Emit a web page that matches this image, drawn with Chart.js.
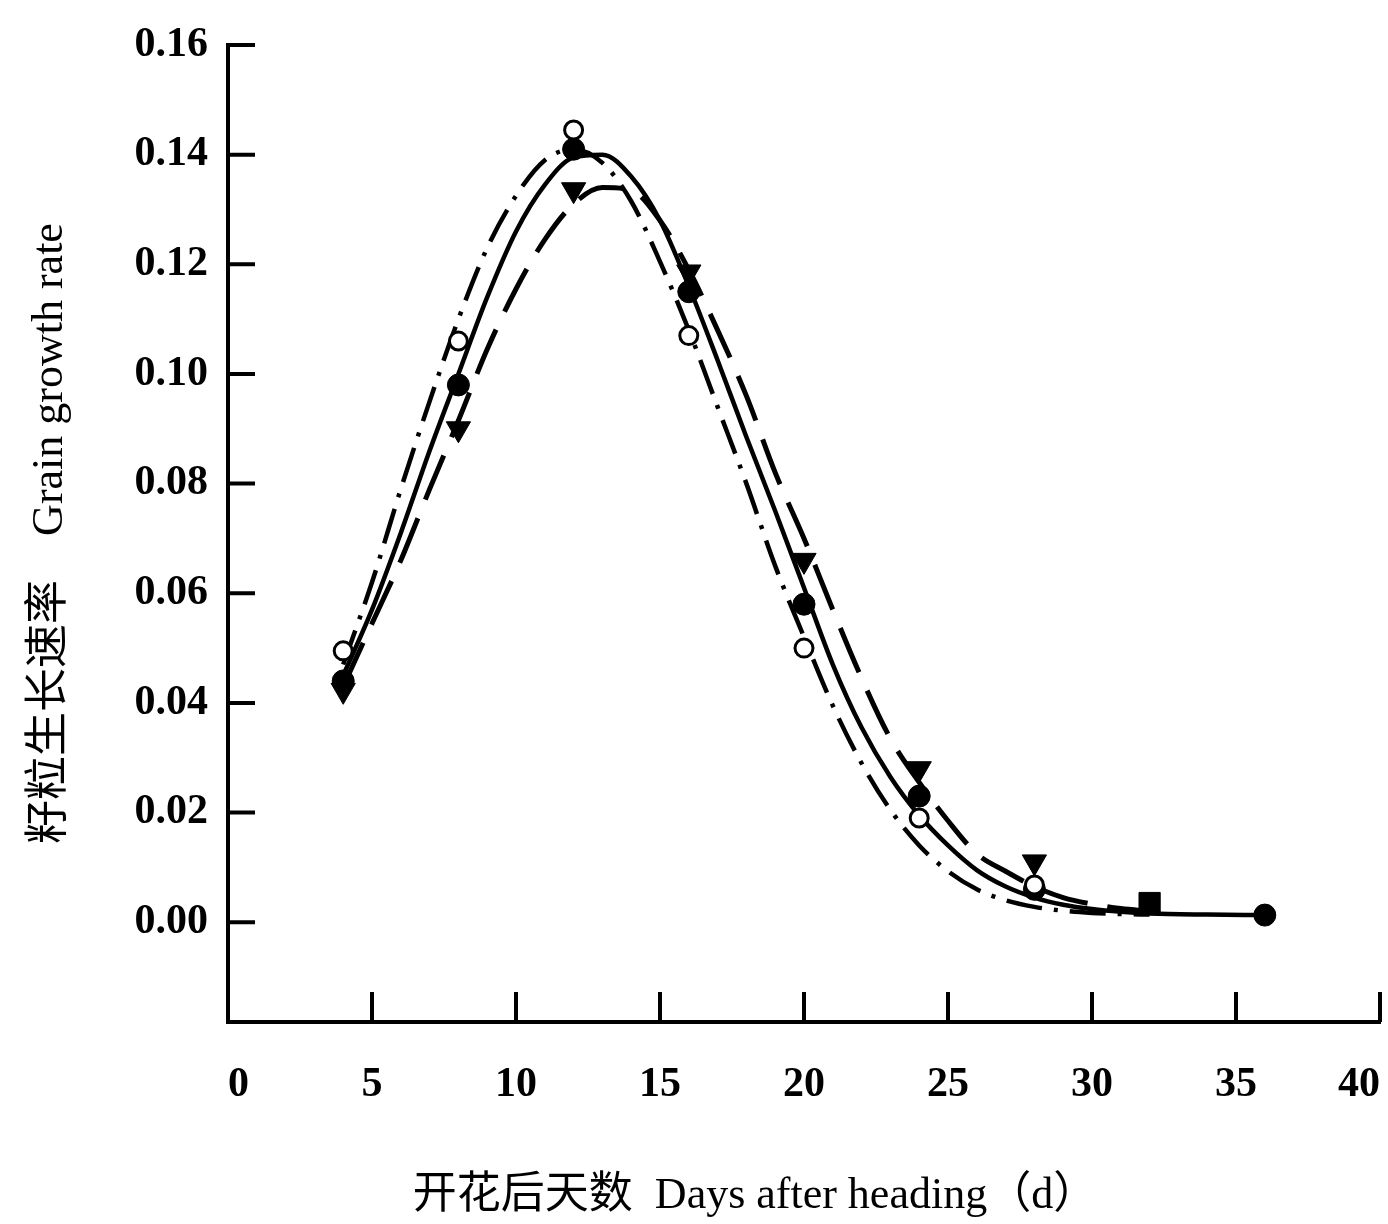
<!DOCTYPE html>
<html>
<head>
<meta charset="utf-8">
<script src="https://cdn.jsdelivr.net/npm/chart.js@4"></script>
<style>
  html, body { margin: 0; padding: 0; background: #fff; }
  canvas { display: block; }
</style>
</head>
<body>
<canvas id="growth_chart" width="1388" height="1224"></canvas>
<script>
// days after heading for the fitted curves
const fitDays = [4, 5, 6, 7, 8, 9, 10, 11, 12, 13, 14, 15, 16, 17, 18, 19, 20, 21, 22, 23, 24, 25, 26, 27, 28, 29, 30, 31, 32, 34, 36]

// fitted grain growth rate curves
const solidFit = [0.045, 0.057, 0.071, 0.086, 0.100, 0.114, 0.126, 0.1345, 0.1395, 0.140, 0.136, 0.128, 0.116, 0.1025, 0.0885, 0.075, 0.061, 0.047, 0.0355, 0.0265, 0.0195, 0.014, 0.0095, 0.0065, 0.0045, 0.0032, 0.0024, 0.0019, 0.0016, 0.0014, 0.0013]
const dashDotFit = [0.047, 0.062, 0.079, 0.095, 0.110, 0.123, 0.1325, 0.139, 0.141, 0.1385, 0.1315, 0.1205, 0.108, 0.094, 0.080, 0.065, 0.052, 0.0395, 0.029, 0.0205, 0.014, 0.0093, 0.006, 0.004, 0.0028, 0.0021, 0.0017, 0.0015, 0.0014]
const dashedFit = [0.043, 0.0545, 0.066, 0.079, 0.0915, 0.1045, 0.1155, 0.1245, 0.131, 0.134, 0.1335, 0.128, 0.119, 0.108, 0.096, 0.082, 0.070, 0.057, 0.0445, 0.0335, 0.0255, 0.0185, 0.0125, 0.0093, 0.0065, 0.0045, 0.0033, 0.0025, 0.002]

// measured points
const sampleDays = [4, 8, 12, 16, 20, 24, 28]
const openCircle = [0.0495, 0.106, 0.1445, 0.107, 0.050, 0.019, 0.0068]
const downTriangle = [0.0423, 0.090, 0.1336, 0.1186, 0.066, 0.028, 0.011]
const filledDays = [4, 8, 12, 16, 20, 24, 28, 32, 36]
const filledPoint = [0.044, 0.098, 0.141, 0.115, 0.058, 0.023, 0.006, 0.0035, 0.0013]

// axes
const xTicks = [0, 5, 10, 15, 20, 25, 30, 35, 40]
const yTicks = [0, 0.02, 0.04, 0.06, 0.08, 0.10, 0.12, 0.14, 0.16]
const xTitle = '开花后天数  Days after heading（d）'
const yTitle = '籽粒生长速率    Grain growth rate'

const serif = '"Liberation Serif", "Times New Roman", "Noto Sans CJK SC", serif'

function pairs(days, values) {
    return values.map((v, i) => ({ x: days[i], y: v }))
}

// tick marks pointing into the plot
const innerTicks = {
    id: 'innerTicks',
    afterDraw(chart) {
        const { ctx, chartArea, scales: { x, y } } = chart
        ctx.save()
        ctx.strokeStyle = '#000'
        ctx.lineWidth = 4
        ctx.beginPath()
        x.ticks.forEach(t => {
            if (t.value === 0) return
            const px = x.getPixelForValue(t.value)
            ctx.moveTo(px, chartArea.bottom)
            ctx.lineTo(px, chartArea.bottom - 30)
        })
        y.ticks.forEach(t => {
            const py = y.getPixelForValue(t.value)
            ctx.moveTo(chartArea.left, py)
            ctx.lineTo(chartArea.left + 27, py)
        })
        ctx.stroke()
        ctx.restore()
    }
}

// x caption sits left of the plot centre
const xCaption = {
    id: 'xCaption',
    afterDraw(chart) {
        const { ctx, chartArea } = chart
        ctx.save()
        ctx.font = '44px ' + serif
        ctx.fillStyle = '#000'
        ctx.textAlign = 'center'
        ctx.textBaseline = 'middle'
        ctx.fillText(xTitle, chartArea.left + 527, chartArea.bottom + 174)
        ctx.restore()
    }
}

const line = (data, width, dash) => ({
    type: 'line',
    data: data,
    borderColor: '#000',
    borderWidth: width,
    borderDash: dash,
    borderCapStyle: 'butt',
    pointRadius: 0,
    cubicInterpolationMode: 'monotone',
    fill: false,
    order: 10
})

new Chart(document.querySelector('#growth_chart'), {
    type: 'scatter',
    data: {
        datasets: [
            {
                data: pairs(sampleDays, openCircle),
                pointStyle: 'circle',
                pointRadius: 9,
                borderWidth: 3,
                borderColor: '#000',
                backgroundColor: '#fff',
                order: 1
            },
            {
                data: pairs(sampleDays, downTriangle),
                pointStyle: 'triangle',
                rotation: 180,
                pointRadius: 14,
                borderWidth: 1,
                borderColor: '#000',
                backgroundColor: '#000',
                order: 2
            },
            {
                data: pairs(filledDays, filledPoint),
                pointStyle: ctx => ctx.raw && ctx.raw.x === 32 ? 'rect' : 'circle',
                pointRadius: ctx => ctx.raw && ctx.raw.x === 32 ? 15 : 11,
                borderWidth: 1,
                borderColor: '#000',
                backgroundColor: '#000',
                order: 3
            },
            line(pairs(fitDays, solidFit), 4.5, []),
            line(pairs(fitDays, dashDotFit), 4.5, [36, 12, 4, 12]),
            line(pairs(fitDays, dashedFit), 5, [48, 20])
        ]
    },
    options: {
        responsive: false,
        animation: false,
        layout: { autoPadding: false, padding: { top: 45, right: 8, bottom: 0, left: 0 } },
        plugins: {
            legend: { display: false },
            tooltip: { enabled: false }
        },
        scales: {
            x: {
                type: 'linear',
                min: 0,
                max: 40,
                afterBuildTicks: scale => { scale.ticks = xTicks.map(v => ({ value: v })) },
                afterFit: scale => {
                    scale.height = 202
                    scale.paddingLeft = 0
                    scale.paddingRight = 0
                },
                grid: { display: false, drawTicks: false },
                border: { display: true, color: '#000', width: 4 },
                ticks: {
                    align: 'inner',
                    padding: 38,
                    color: '#000',
                    font: { family: serif, size: 42, weight: 'bold' },
                    callback: v => String(v)
                }
            },
            y: {
                type: 'linear',
                min: -0.0182,
                max: 0.16,
                afterBuildTicks: scale => { scale.ticks = yTicks.map(v => ({ value: v })) },
                afterFit: scale => {
                    scale.width = 228
                    scale.paddingTop = 0
                    scale.paddingBottom = 0
                },
                grid: { display: false, drawTicks: false },
                border: { display: true, color: '#000', width: 4 },
                ticks: {
                    padding: 20,
                    color: '#000',
                    font: { family: serif, size: 42, weight: 'bold' },
                    callback: v => v.toFixed(2)
                },
                title: {
                    display: true,
                    text: yTitle,
                    color: '#000',
                    padding: { top: 24, bottom: 0 },
                    font: { family: serif, size: 44 }
                }
            }
        }
    },
    plugins: [innerTicks, xCaption]
})
</script>
</body>
</html>
